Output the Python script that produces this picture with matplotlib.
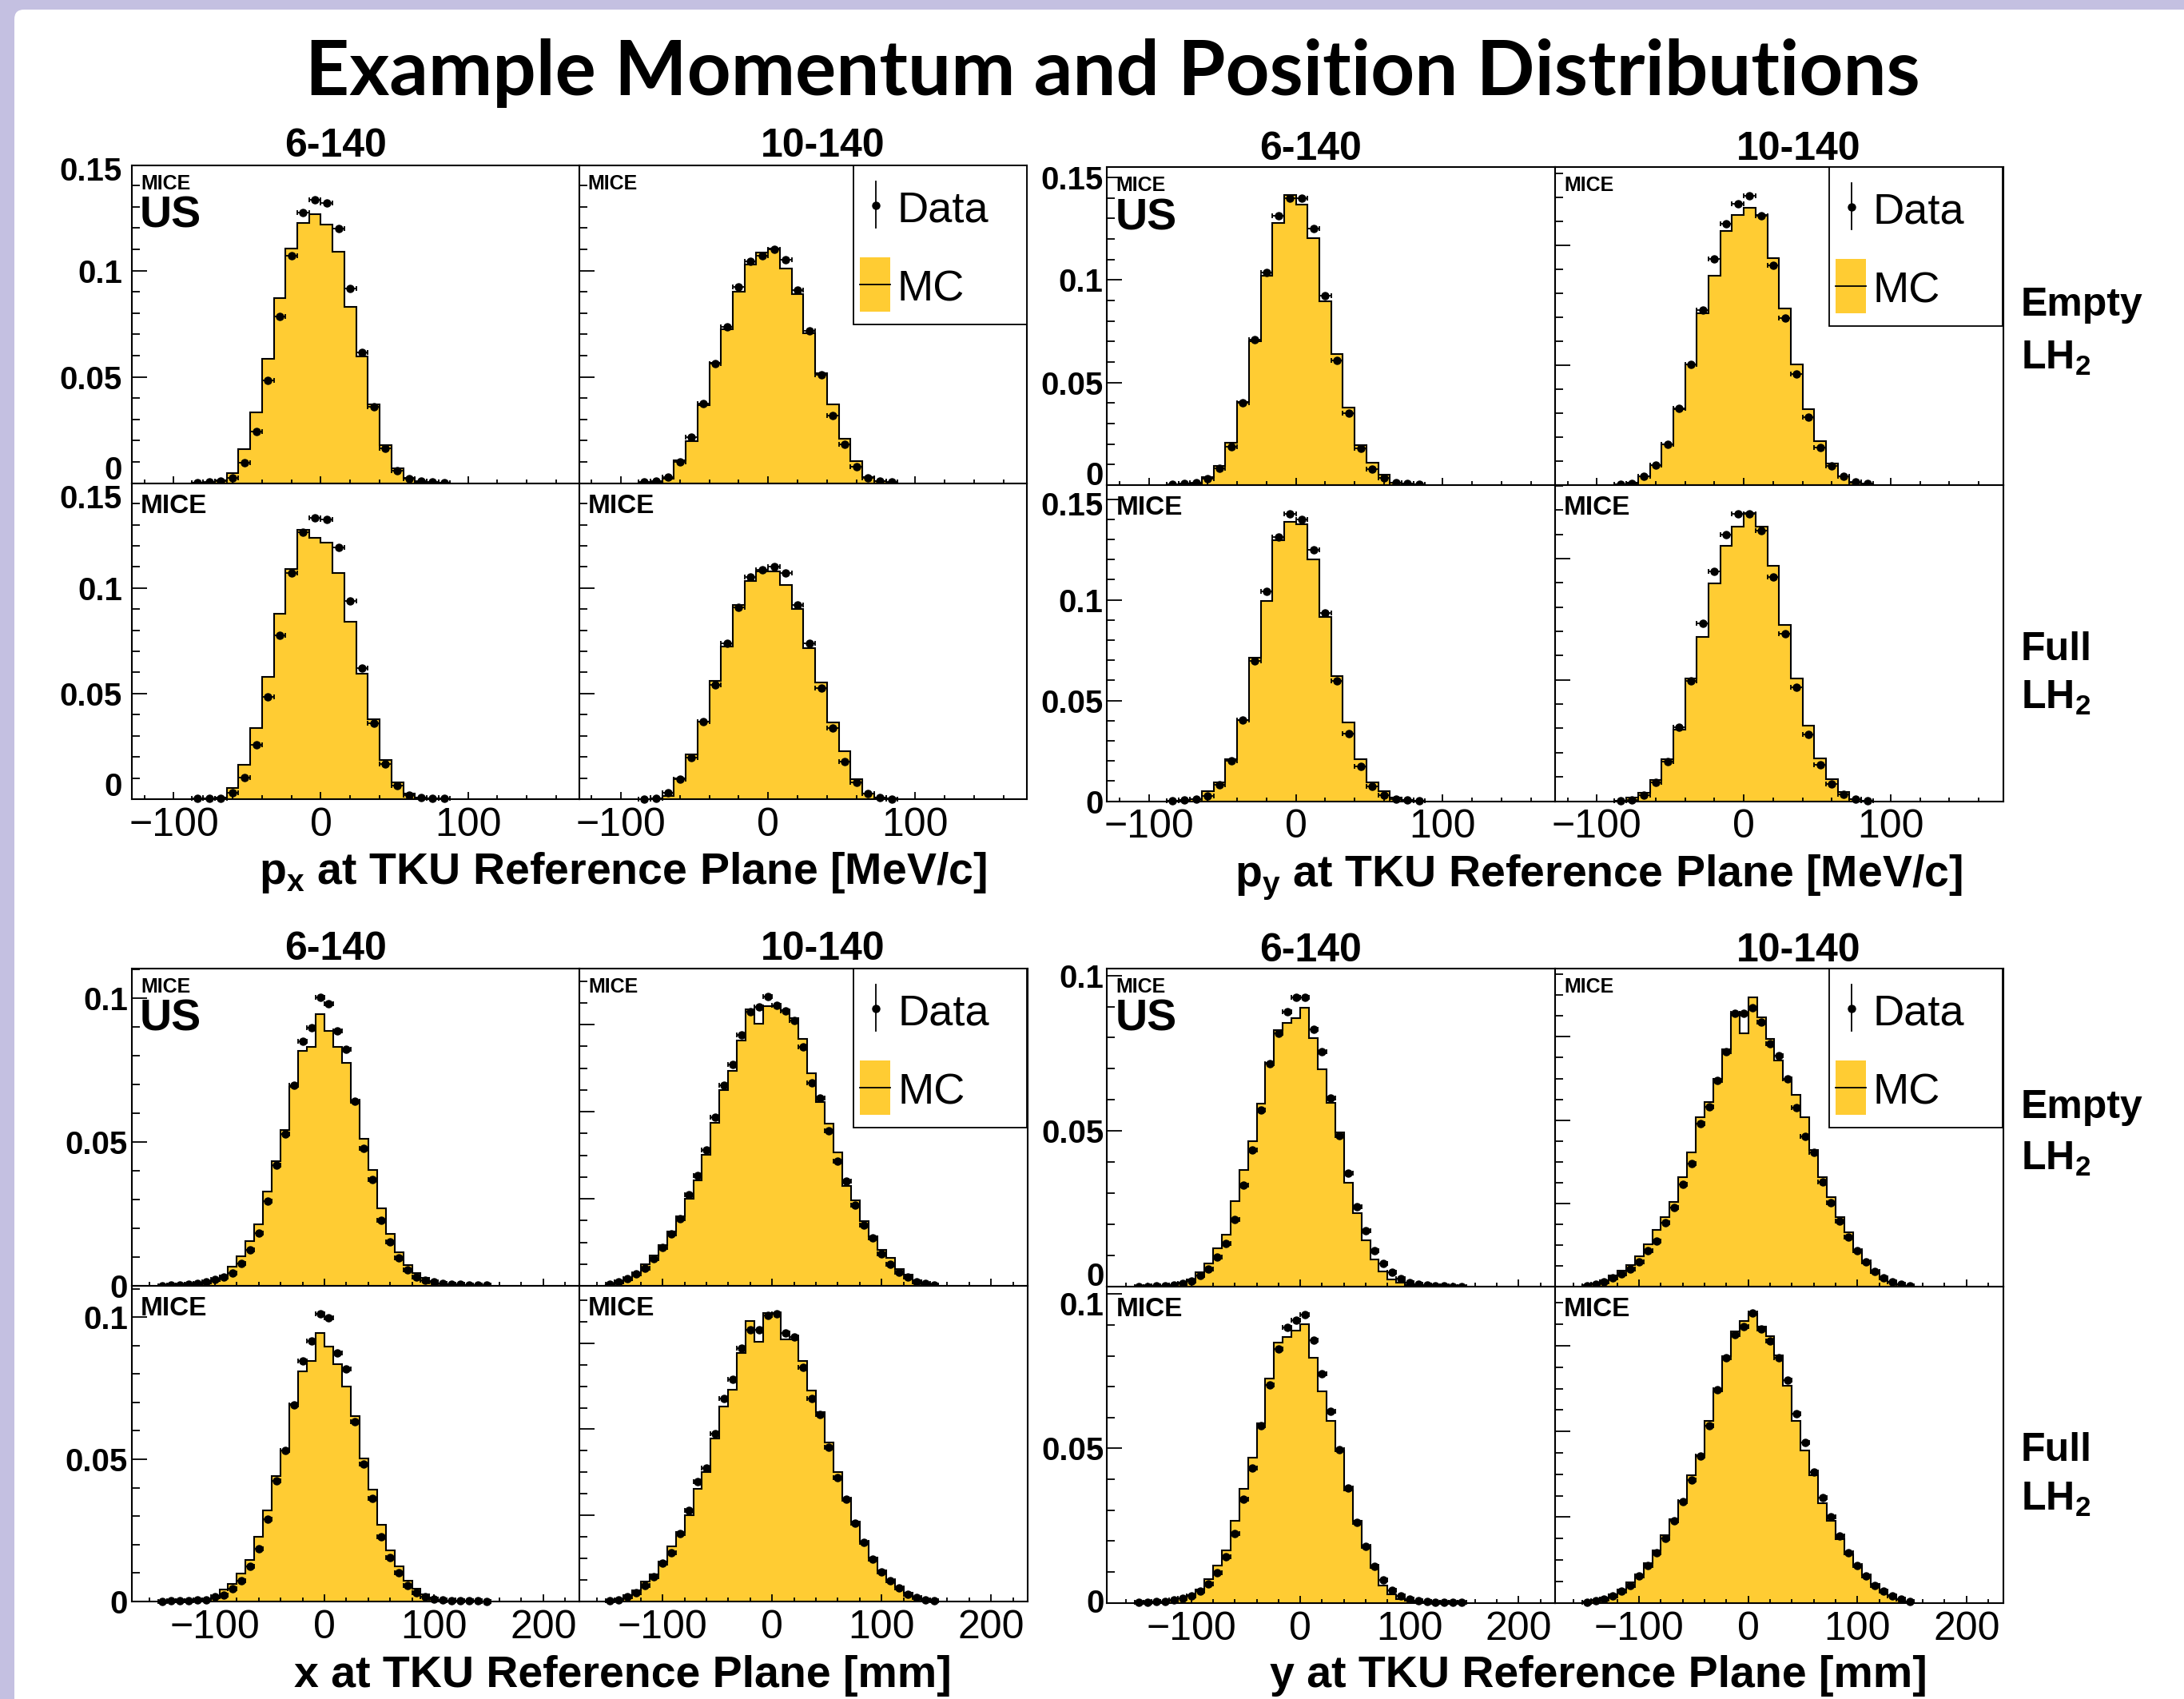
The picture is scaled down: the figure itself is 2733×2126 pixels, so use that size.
import numpy as np
import matplotlib
matplotlib.use('Agg')
import matplotlib.pyplot as plt
from matplotlib.patches import FancyBboxPatch, Rectangle
from matplotlib.lines import Line2D
import matplotlib.transforms as mtrans
from matplotlib.ticker import MultipleLocator

plt.rcParams['font.family'] = ['Liberation Sans', 'DejaVu Sans']
plt.rcParams['mathtext.fontset'] = 'custom'
plt.rcParams['mathtext.bf'] = 'Liberation Sans:bold'
plt.rcParams['mathtext.rm'] = 'Liberation Sans'

# ---------------- data ----------------
MOM_EDGES = np.arange(-88, 89, 8)      # MeV/c
MOM_CENTERS = MOM_EDGES[:-1] + 4
POS_EDGES = np.arange(-152, 153, 8)    # mm
POS_CENTERS = POS_EDGES[:-1] + 4

PX_E6_MC = [0.0001, 0.0003, 0.0013, 0.0048, 0.0158, 0.0331, 0.0585, 0.0869, 0.1102, 0.1226, 0.1264,
            0.1218, 0.1088, 0.0831, 0.0597, 0.0370, 0.0177, 0.0071, 0.0023, 0.0006, 0.0003, 0.0001]
PX_E6_DATA = [0.0003, 0.0004, 0.0009, 0.0025, 0.0096, 0.0241, 0.0484, 0.0783, 0.1069, 0.1273, 0.1333,
              0.1319, 0.1198, 0.0917, 0.0616, 0.0361, 0.0164, 0.0057, 0.0019, 0.0008, 0.0004, 0.0002]
PX_E10_MC = [0.0001, 0.0006, 0.0020, 0.0109, 0.0197, 0.0366, 0.0566, 0.0723, 0.0900, 0.1029, 0.1086,
             0.1102, 0.1011, 0.0890, 0.0705, 0.0518, 0.0370, 0.0208, 0.0105, 0.0029, 0.0008, 0.0003]
PX_E10_DATA = [0.0004, 0.0010, 0.0029, 0.0098, 0.0218, 0.0374, 0.0562, 0.0736, 0.0924, 0.1044, 0.1071,
               0.1100, 0.1053, 0.0909, 0.0716, 0.0510, 0.0319, 0.0181, 0.0077, 0.0023, 0.0010, 0.0004]
PX_F6_MC = [0.0001, 0.0003, 0.0008, 0.0052, 0.0162, 0.0337, 0.0578, 0.0879, 0.1090, 0.1276, 0.1239,
            0.1215, 0.1073, 0.0839, 0.0595, 0.0378, 0.0185, 0.0080, 0.0027, 0.0006, 0.0002, 0.0001]
PX_F6_DATA = [0.0004, 0.0004, 0.0004, 0.0032, 0.0101, 0.0256, 0.0486, 0.0777, 0.1071, 0.1264, 0.1334,
              0.1324, 0.1194, 0.0940, 0.0621, 0.0359, 0.0165, 0.0065, 0.0019, 0.0006, 0.0004, 0.0004]
PX_F10_MC = [0.0001, 0.0004, 0.0016, 0.0099, 0.0213, 0.0369, 0.0559, 0.0723, 0.0919, 0.1033, 0.1079,
             0.1079, 0.1016, 0.0899, 0.0714, 0.0553, 0.0363, 0.0226, 0.0093, 0.0027, 0.0006, 0.0002]
PX_F10_DATA = [0.0001, 0.0004, 0.0032, 0.0093, 0.0198, 0.0369, 0.0543, 0.0738, 0.0910, 0.1054, 0.1085,
               0.1101, 0.1071, 0.0919, 0.0737, 0.0527, 0.0337, 0.0179, 0.0080, 0.0027, 0.0006, 0.0001]

PY_E6_MC = [0.0001, 0.0005, 0.0009, 0.0038, 0.0094, 0.0208, 0.0405, 0.0700, 0.1019, 0.1279, 0.1414,
            0.1366, 0.1204, 0.0895, 0.0639, 0.0377, 0.0194, 0.0109, 0.0051, 0.0013, 0.0005, 0.0002]
PY_E6_DATA = [0.0005, 0.0006, 0.0012, 0.0031, 0.0083, 0.0188, 0.0403, 0.0710, 0.1035, 0.1313, 0.1397,
              0.1397, 0.1252, 0.0922, 0.0609, 0.0349, 0.0178, 0.0078, 0.0035, 0.0013, 0.0008, 0.0005]
PY_E10_MC = [0.0001, 0.0011, 0.0036, 0.0083, 0.0171, 0.0317, 0.0502, 0.0716, 0.0874, 0.1060, 0.1127,
             0.1158, 0.1127, 0.0947, 0.0738, 0.0502, 0.0316, 0.0184, 0.0091, 0.0036, 0.0011, 0.0003]
PY_E10_DATA = [0.0004, 0.0008, 0.0036, 0.0082, 0.0169, 0.0319, 0.0504, 0.0730, 0.0943, 0.1091, 0.1174,
               0.1206, 0.1124, 0.0917, 0.0697, 0.0462, 0.0282, 0.0158, 0.0080, 0.0036, 0.0013, 0.0006]
PY_F6_MC = [0.0001, 0.0004, 0.0011, 0.0048, 0.0094, 0.0209, 0.0401, 0.0714, 0.0996, 0.1296, 0.1389,
            0.1376, 0.1201, 0.0914, 0.0623, 0.0392, 0.0209, 0.0093, 0.0050, 0.0016, 0.0004, 0.0001]
PY_F6_DATA = [0.0001, 0.0004, 0.0011, 0.0026, 0.0081, 0.0200, 0.0401, 0.0698, 0.1042, 0.1313, 0.1429,
              0.1399, 0.1249, 0.0933, 0.0599, 0.0337, 0.0173, 0.0074, 0.0030, 0.0011, 0.0004, 0.0001]
PY_F10_MC = [0.0001, 0.0014, 0.0036, 0.0086, 0.0174, 0.0295, 0.0505, 0.0677, 0.0897, 0.1051, 0.1132,
             0.1187, 0.1132, 0.0970, 0.0725, 0.0505, 0.0311, 0.0176, 0.0091, 0.0038, 0.0009, 0.0002]
PY_F10_DATA = [0.0002, 0.0005, 0.0025, 0.0079, 0.0163, 0.0305, 0.0496, 0.0734, 0.0948, 0.1099, 0.1185,
               0.1185, 0.1116, 0.0923, 0.0690, 0.0470, 0.0275, 0.0149, 0.0071, 0.0029, 0.0009, 0.0002]

X_E6_MC = [0.0001, 0.0002, 0.0004, 0.0005, 0.0006, 0.0007, 0.0016, 0.0037, 0.0067, 0.0104, 0.0155, 0.0215,
           0.0328, 0.0434, 0.0541, 0.0692, 0.0817, 0.0831, 0.0946, 0.0886, 0.0831, 0.0775, 0.0641, 0.0511,
           0.0403, 0.0269, 0.0181, 0.0118, 0.0071, 0.0044, 0.0027, 0.0016, 0.0009, 0.0006, 0.0004, 0.0003,
           0.0002, 0.0001]
X_E6_DATA = [0.0001, 0.0002, 0.0004, 0.0006, 0.0008, 0.0014, 0.0022, 0.0030, 0.0045, 0.0079, 0.0124, 0.0184,
             0.0295, 0.0421, 0.0527, 0.0699, 0.0851, 0.0897, 0.1005, 0.0981, 0.0886, 0.0824, 0.0641, 0.0477,
             0.0369, 0.0229, 0.0152, 0.0097, 0.0057, 0.0031, 0.0020, 0.0013, 0.0008, 0.0006, 0.0005, 0.0004,
             0.0003, 0.0002]
X_E10_MC = [0.0002, 0.0007, 0.0013, 0.0029, 0.0050, 0.0069, 0.0094, 0.0124, 0.0160, 0.0200, 0.0243, 0.0301,
            0.0374, 0.0450, 0.0494, 0.0564, 0.0636, 0.0602, 0.0643, 0.0643, 0.0634, 0.0616, 0.0568, 0.0489,
            0.0423, 0.0372, 0.0307, 0.0230, 0.0196, 0.0148, 0.0114, 0.0082, 0.0064, 0.0039, 0.0026, 0.0013,
            0.0006, 0.0002]
X_E10_DATA = [0.0003, 0.0009, 0.0017, 0.0027, 0.0041, 0.0062, 0.0088, 0.0120, 0.0154, 0.0210, 0.0253, 0.0313,
              0.0388, 0.0461, 0.0509, 0.0577, 0.0630, 0.0641, 0.0665, 0.0645, 0.0631, 0.0610, 0.0549, 0.0466,
              0.0432, 0.0356, 0.0287, 0.0240, 0.0186, 0.0140, 0.0111, 0.0073, 0.0049, 0.0032, 0.0020, 0.0010,
              0.0006, 0.0002]
X_F6_MC = [0.0001, 0.0002, 0.0003, 0.0004, 0.0004, 0.0007, 0.0013, 0.0041, 0.0063, 0.0098, 0.0146, 0.0227,
           0.0319, 0.0440, 0.0532, 0.0695, 0.0809, 0.0845, 0.0943, 0.0897, 0.0836, 0.0755, 0.0653, 0.0504,
           0.0394, 0.0269, 0.0180, 0.0124, 0.0072, 0.0044, 0.0025, 0.0013, 0.0007, 0.0004, 0.0003, 0.0002,
           0.0001, 0.0001]
X_F6_DATA = [0.0001, 0.0002, 0.0003, 0.0004, 0.0005, 0.0007, 0.0016, 0.0023, 0.0044, 0.0072, 0.0124, 0.0185,
             0.0290, 0.0424, 0.0532, 0.0692, 0.0847, 0.0915, 0.1013, 0.0997, 0.0873, 0.0819, 0.0633, 0.0484,
             0.0362, 0.0229, 0.0154, 0.0100, 0.0056, 0.0030, 0.0016, 0.0009, 0.0007, 0.0004, 0.0004, 0.0003,
             0.0002, 0.0001]
X_F10_MC = [0.0001, 0.0006, 0.0014, 0.0026, 0.0046, 0.0063, 0.0092, 0.0128, 0.0162, 0.0201, 0.0261, 0.0300,
            0.0379, 0.0452, 0.0492, 0.0578, 0.0651, 0.0603, 0.0670, 0.0670, 0.0609, 0.0609, 0.0559, 0.0490,
            0.0440, 0.0370, 0.0300, 0.0240, 0.0185, 0.0140, 0.0102, 0.0072, 0.0050, 0.0033, 0.0020, 0.0010,
            0.0004, 0.0001]
X_F10_DATA = [0.0001, 0.0004, 0.0011, 0.0020, 0.0038, 0.0057, 0.0090, 0.0113, 0.0157, 0.0212, 0.0279, 0.0310,
              0.0390, 0.0471, 0.0515, 0.0588, 0.0631, 0.0631, 0.0665, 0.0668, 0.0624, 0.0614, 0.0543, 0.0471,
              0.0435, 0.0359, 0.0287, 0.0238, 0.0182, 0.0137, 0.0099, 0.0069, 0.0048, 0.0032, 0.0017, 0.0009,
              0.0004, 0.0001]

Y_E6_MC = [0.0001, 0.0001, 0.0002, 0.0003, 0.0006, 0.0013, 0.0024, 0.0045, 0.0075, 0.0123, 0.0168, 0.0275,
           0.0375, 0.0468, 0.0588, 0.0719, 0.0823, 0.0847, 0.0863, 0.0895, 0.0799, 0.0698, 0.0591, 0.0495,
           0.0335, 0.0236, 0.0149, 0.0088, 0.0048, 0.0024, 0.0013, 0.0006, 0.0003, 0.0002, 0.0001, 0.0001,
           0.0001, 0.0001]
Y_E6_DATA = [0.0001, 0.0001, 0.0002, 0.0003, 0.0006, 0.0011, 0.0019, 0.0035, 0.0056, 0.0096, 0.0139, 0.0216,
             0.0327, 0.0439, 0.0567, 0.0716, 0.0815, 0.0883, 0.0930, 0.0930, 0.0827, 0.0754, 0.0607, 0.0486,
             0.0364, 0.0256, 0.0181, 0.0115, 0.0075, 0.0045, 0.0026, 0.0014, 0.0008, 0.0005, 0.0003, 0.0002,
             0.0001, 0.0001]
Y_E10_MC = [0.0004, 0.0008, 0.0016, 0.0026, 0.0038, 0.0051, 0.0072, 0.0101, 0.0137, 0.0167, 0.0203, 0.0263,
            0.0322, 0.0406, 0.0444, 0.0499, 0.0571, 0.0657, 0.0609, 0.0695, 0.0647, 0.0595, 0.0543, 0.0498,
            0.0460, 0.0406, 0.0328, 0.0263, 0.0215, 0.0167, 0.0131, 0.0086, 0.0057, 0.0033, 0.0021, 0.0012,
            0.0005, 0.0001]
Y_E10_DATA = [0.0002, 0.0006, 0.0012, 0.0022, 0.0030, 0.0042, 0.0060, 0.0086, 0.0110, 0.0153, 0.0191, 0.0245,
              0.0296, 0.0392, 0.0432, 0.0495, 0.0564, 0.0657, 0.0657, 0.0669, 0.0635, 0.0583, 0.0555, 0.0499,
              0.0430, 0.0360, 0.0322, 0.0251, 0.0201, 0.0158, 0.0119, 0.0086, 0.0060, 0.0036, 0.0021, 0.0012,
              0.0006, 0.0002]
Y_F6_MC = [0.0001, 0.0001, 0.0002, 0.0003, 0.0006, 0.0013, 0.0024, 0.0044, 0.0076, 0.0121, 0.0169, 0.0266,
           0.0368, 0.0471, 0.0581, 0.0726, 0.0844, 0.0860, 0.0882, 0.0903, 0.0794, 0.0685, 0.0589, 0.0492,
           0.0363, 0.0266, 0.0182, 0.0113, 0.0056, 0.0027, 0.0011, 0.0006, 0.0003, 0.0002, 0.0001, 0.0001,
           0.0001, 0.0001]
Y_F6_DATA = [0.0001, 0.0001, 0.0003, 0.0005, 0.0008, 0.0013, 0.0021, 0.0037, 0.0060, 0.0097, 0.0148, 0.0223,
             0.0334, 0.0435, 0.0573, 0.0705, 0.0823, 0.0892, 0.0915, 0.0934, 0.0850, 0.0742, 0.0621, 0.0495,
             0.0371, 0.0261, 0.0182, 0.0118, 0.0073, 0.0040, 0.0021, 0.0011, 0.0006, 0.0003, 0.0002, 0.0002,
             0.0001, 0.0001]
Y_F10_MC = [0.0002, 0.0006, 0.0012, 0.0020, 0.0031, 0.0047, 0.0066, 0.0093, 0.0122, 0.0157, 0.0195, 0.0238,
            0.0297, 0.0345, 0.0424, 0.0494, 0.0576, 0.0634, 0.0657, 0.0674, 0.0645, 0.0622, 0.0578, 0.0506,
            0.0424, 0.0355, 0.0297, 0.0233, 0.0192, 0.0148, 0.0113, 0.0087, 0.0064, 0.0044, 0.0029, 0.0017,
            0.0009, 0.0003]
Y_F10_DATA = [0.0001, 0.0004, 0.0008, 0.0015, 0.0027, 0.0041, 0.0062, 0.0087, 0.0116, 0.0151, 0.0192, 0.0236,
              0.0287, 0.0343, 0.0413, 0.0498, 0.0571, 0.0626, 0.0645, 0.0676, 0.0640, 0.0612, 0.0571, 0.0519,
              0.0441, 0.0374, 0.0306, 0.0245, 0.0201, 0.0156, 0.0117, 0.0087, 0.0062, 0.0041, 0.0027, 0.0015,
              0.0008, 0.0002]

COLUMN_TITLES = ['6-140', '10-140']
ROW_LABELS = [['Empty', r'LH$_\mathbf{2}$'], ['Full', r'LH$_\mathbf{2}$']]
TITLE = 'Example Momentum and Position Distributions'

# ---------------- figure ----------------
W, H = 2733, 2126
DPI = 100
fig = plt.figure(figsize=(W / DPI, H / DPI), dpi=DPI)
fig.patch.set_facecolor('#C4C0E1')
bg = FancyBboxPatch((18, -20), W, H - 12 + 20, boxstyle='round,pad=0,rounding_size=12',
                    transform=mtrans.IdentityTransform(), fc='white', ec='none', zorder=0)
fig.add_artist(bg)

FILL = '#FFCC33'


def px2fig(x, y):
    return x / W, 1 - y / H


def make_ax(x0, x1, yt, yb):
    return fig.add_axes([x0 / W, 1 - yb / H, (x1 - x0) / W, (yb - yt) / H])


def draw_panel(ax, edges, centers, mc, data, xlim, ytop, ymaj, ymin):
    ax.stairs(mc, edges, fill=True, color=FILL, lw=0, zorder=1)
    ax.stairs(mc, edges, color='black', lw=1.5, zorder=2)
    ax.errorbar(centers, data, xerr=4, fmt='o', ms=6.5, color='black', mec='black',
                elinewidth=1.3, capsize=2.0, capthick=1.3, zorder=3, clip_on=False)
    ax.set_xlim(*xlim)
    ax.set_ylim(0, ytop)
    ax.xaxis.set_major_locator(MultipleLocator(100))
    ax.xaxis.set_minor_locator(MultipleLocator(20))
    ax.yaxis.set_major_locator(MultipleLocator(ymaj))
    ax.yaxis.set_minor_locator(MultipleLocator(ymin))
    ax.tick_params(which='both', direction='in', top=False, right=False,
                   labelleft=False, labelbottom=False, color='black')
    ax.tick_params(axis='y', which='major', length=13.5, width=1.3)
    ax.tick_params(axis='y', which='minor', length=7, width=1.3)
    ax.tick_params(axis='x', which='major', length=6.5, width=1.3)
    ax.tick_params(axis='x', which='minor', length=3.5, width=1.3)
    for s in ax.spines.values():
        s.set_linewidth(1.5)


def ylabels(ax, vals, texts, offsets, pad):
    for v, t in zip(vals, texts):
        dy = offsets.get(t, 0)
        tr = mtrans.blended_transform_factory(ax.transAxes, ax.transData) + \
            mtrans.ScaledTranslation(-pad / DPI, dy / DPI, fig.dpi_scale_trans)
        ax.text(0, v, t, transform=tr, ha='right', va='center_baseline', fontsize=29,
                fontweight='bold', clip_on=False)


def xlabels(ax, vals):
    for v in vals:
        tr = mtrans.blended_transform_factory(ax.transData, ax.transAxes) + \
            mtrans.ScaledTranslation(0, -10 / DPI, fig.dpi_scale_trans)
        t = ('\u2212' + str(abs(v))) if v < 0 else str(v)
        ax.text(v, 0, t, transform=tr, ha='center', va='top', fontsize=36, clip_on=False)


def pix_text(ax, dx, dy, s, **kw):
    tr = ax.transAxes + mtrans.ScaledTranslation(dx / DPI, -dy / DPI, fig.dpi_scale_trans)
    ax.text(0, 1, s, transform=tr, **kw)


def legend(ax, wpx, hpx):
    def P(px, py):
        return px / wpx, 1 - py / hpx
    x0, y0 = P(343, 199)
    x1, y1 = P(560, 0)
    ax.add_patch(Rectangle((x0, y0), x1 - x0, y1 - y0, transform=ax.transAxes, fc='white',
                           ec='black', lw=1.3, zorder=6, clip_on=False))
    ax.add_line(Line2D([P(371, 0)[0]] * 2, [P(0, 20)[1], P(0, 78)[1]], transform=ax.transAxes,
                       color='black', lw=1.3, zorder=7))
    ax.plot([P(371, 0)[0]], [P(0, 50)[1]], 'o', color='black', ms=6.5, transform=ax.transAxes, zorder=7)
    ax.text(P(398, 0)[0], P(0, 51)[1], 'Data', transform=ax.transAxes, ha='left',
            va='center_baseline', fontsize=39, zorder=7)
    bx0, by0 = P(351, 183)
    bx1, by1 = P(389, 115)
    ax.add_patch(Rectangle((bx0, by0), bx1 - bx0, by1 - by0, transform=ax.transAxes, fc=FILL,
                           ec='none', zorder=7))
    ax.add_line(Line2D([bx0, bx1], [P(0, 149)[1]] * 2, transform=ax.transAxes, color='black',
                       lw=1.3, zorder=8))
    ax.text(P(398, 0)[0], P(0, 150)[1], 'MC', transform=ax.transAxes, ha='left',
            va='center_baseline', fontsize=39, zorder=7)


quads = [
    dict(xc=[165, 724.5, 1284.5], yr=[207, 604.5, 1000], edges=MOM_EDGES, centers=MOM_CENTERS,
         xlim=(-128.5, 175.5),
         mc=[[PX_E6_MC, PX_E10_MC], [PX_F6_MC, PX_F10_MC]],
         data=[[PX_E6_DATA, PX_E10_DATA], [PX_F6_DATA, PX_F10_DATA]],
         ytop=[[0.1495, 0.1495], [0.1497, 0.1497]], ymaj=[0.05, 0.05], ymin=[0.01, 0.01],
         yvals=[0, 0.05, 0.1, 0.15], ytexts=['0', '0.05', '0.1', '0.15'],
         yoff=[{'0': 20, '0.15': -5}, {'0': 19, '0.15': -17}], ypad=12,
         xt=[-100, 0, 100], xlabel=r'p$_\mathbf{x}$ at TKU Reference Plane [MeV/c]',
         xlab_pos=(779, 1106), coltitle_y=196, rowlabels=False),
    dict(xc=[1385.5, 1946, 2506.5], yr=[209, 607, 1002.5], edges=MOM_EDGES, centers=MOM_CENTERS,
         xlim=(-128.5, 176.5),
         mc=[[PY_E6_MC, PY_E10_MC], [PY_F6_MC, PY_F10_MC]],
         data=[[PY_E6_DATA, PY_E10_DATA], [PY_F6_DATA, PY_F10_DATA]],
         ytop=[[0.155, 0.1327], [0.157, 0.1303]], ymaj=[0.05, 0.05], ymin=[0.01, 0.01],
         yvals=[0, 0.05, 0.1, 0.15], ytexts=['0', '0.05', '0.1', '0.15'],
         yoff=[{'0': 15}, {'0.15': -5}], ypad=5,
         xt=[-100, 0, 100], xlabel=r'p$_\mathbf{y}$ at TKU Reference Plane [MeV/c]',
         xlab_pos=(2000, 1109), coltitle_y=200, rowlabels=True,
         rowlab_y=[(395, 462), (826, 887)]),
    dict(xc=[165, 725, 1285.5], yr=[1212, 1609, 2004], edges=POS_EDGES, centers=POS_CENTERS,
         xlim=(-176, 233),
         mc=[[X_E6_MC, X_E10_MC], [X_F6_MC, X_F10_MC]],
         data=[[X_E6_DATA, X_E10_DATA], [X_F6_DATA, X_F10_DATA]],
         ytop=[[0.1104, 0.0729], [0.111, 0.0733]], ymaj=[0.05, 0.02], ymin=[0.01, 0.005],
         yvals=[0, 0.05, 0.1], ytexts=['0', '0.05', '0.1'],
         yoff=[{}, {}], ypad=5,
         xt=[-100, 0, 100, 200], xlabel='x at TKU Reference Plane [mm]',
         xlab_pos=(779, 2111), coltitle_y=1201, rowlabels=False),
    dict(xc=[1385.5, 1946, 2506.5], yr=[1212, 1610, 2005.5], edges=POS_EDGES, centers=POS_CENTERS,
         xlim=(-177, 233.5),
         mc=[[Y_E6_MC, Y_E10_MC], [Y_F6_MC, Y_F10_MC]],
         data=[[Y_E6_DATA, Y_E10_DATA], [Y_F6_DATA, Y_F10_DATA]],
         ytop=[[0.1022, 0.0764], [0.1024, 0.0738]], ymaj=[0.05, 0.02], ymin=[0.01, 0.005],
         yvals=[0, 0.05, 0.1], ytexts=['0', '0.05', '0.1'],
         yoff=[{'0': 16}, {'0': 3, '0.1': -12}], ypad=4,
         xt=[-100, 0, 100, 200], xlabel='y at TKU Reference Plane [mm]',
         xlab_pos=(2000, 2111), coltitle_y=1203, rowlabels=True,
         rowlab_y=[(1399, 1464), (1828, 1890)]),
]

for q in quads:
    xc, yr = q['xc'], q['yr']
    for r in range(2):
        for c in range(2):
            ax = make_ax(xc[c], xc[c + 1], yr[r], yr[r + 1])
            wpx = xc[c + 1] - xc[c]
            hpx = yr[r + 1] - yr[r]
            draw_panel(ax, q['edges'], q['centers'], q['mc'][r][c], q['data'][r][c], q['xlim'],
                       q['ytop'][r][c], q['ymaj'][c], q['ymin'][c])
            if c == 0:
                ylabels(ax, q['yvals'], q['ytexts'], q['yoff'][r], q['ypad'])
            if r == 1:
                xlabels(ax, q['xt'])
            if r == 0:
                pix_text(ax, 11, 11, 'MICE', ha='left', va='top', fontsize=18, fontweight='bold', zorder=9)
                if c == 0:
                    pix_text(ax, 10, 38, 'US', ha='left', va='top', fontsize=40, fontweight='bold', zorder=9)
                else:
                    legend(ax, wpx, hpx)
            else:
                pix_text(ax, 11, 13, 'MICE', ha='left', va='top', fontsize=24, fontweight='bold', zorder=9)
    # column titles
    off = xc[0] - 165
    for cx, t in zip([420, 1030], COLUMN_TITLES):
        fig.text(*px2fig(cx + off, q['coltitle_y']), t, ha='center', va='baseline', fontsize=36,
                 fontweight='bold')
    fig.text(*px2fig(*q['xlab_pos']), q['xlabel'], ha='center', va='baseline', fontsize=40,
             fontweight='bold')
    if q['rowlabels']:
        for (y1, y2), (a, b) in zip(q['rowlab_y'], ROW_LABELS):
            fig.text(*px2fig(2529, y1), a, ha='left', va='baseline', fontsize=36, fontweight='bold')
            fig.text(*px2fig(2529, y2), b, ha='left', va='baseline', fontsize=36, fontweight='bold')

fig.text(*px2fig(1392, 119), TITLE, ha='center', va='baseline', fontsize=69, fontweight='bold',
         family=['Lato', 'DejaVu Sans'])

fig.savefig('out.png', dpi=DPI, facecolor=fig.get_facecolor())
